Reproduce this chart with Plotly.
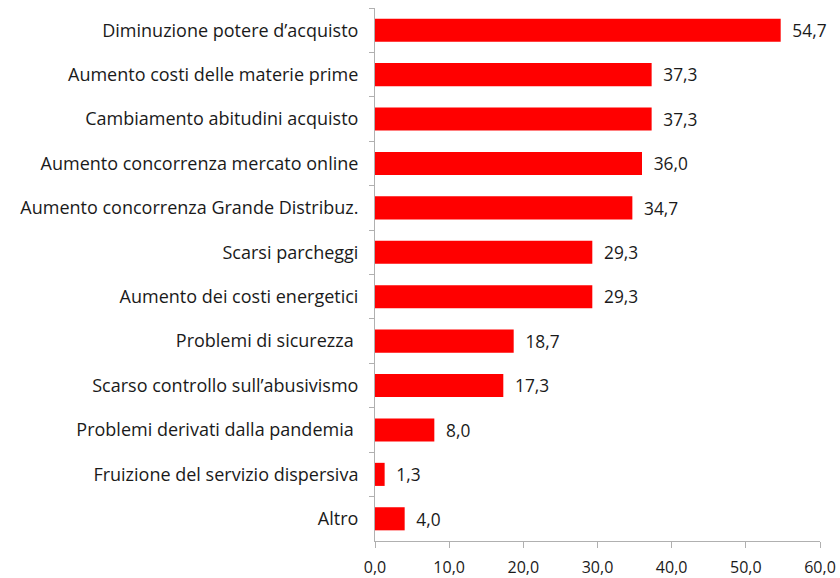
import plotly.graph_objects as go

categories = [
    "Diminuzione potere d’acquisto",
    "Aumento costi delle materie prime",
    "Cambiamento abitudini acquisto",
    "Aumento concorrenza mercato online",
    "Aumento concorrenza Grande Distribuz.",
    "Scarsi parcheggi",
    "Aumento dei costi energetici",
    "Problemi di sicurezza ",
    "Scarso controllo sull’abusivismo",
    "Problemi derivati dalla pandemia ",
    "Fruizione del servizio dispersiva",
    "Altro",
]
values = [54.7, 37.3, 37.3, 36.0, 34.7, 29.3, 29.3, 18.7, 17.3, 8.0, 1.3, 4.0]
x_ticks = [0, 10, 20, 30, 40, 50, 60]

FONT = "Open Sans, sans-serif"
TXT = "#1a1a1a"

fig = go.Figure(go.Bar(
    y=categories,
    x=values,
    orientation="h",
    marker=dict(color="#ff0000", line=dict(width=0)),
    texttemplate="\u2002%{x:.1f}",
    textposition="outside",
    textfont=dict(family=FONT, size=18, color=TXT),
    cliponaxis=False,
    width=0.52,
    hoverinfo="skip",
))

fig.update_layout(
    width=840, height=578,
    margin=dict(l=375, r=20, t=8, b=37),
    paper_bgcolor="white", plot_bgcolor="white",
    separators=",.",
    showlegend=False,
    font=dict(family=FONT, size=18, color=TXT),
)
fig.update_yaxes(
    autorange="reversed",
    automargin=False,
    showline=True, linecolor="#b0b0b0", linewidth=1,
    ticks="outside", ticklen=5, tickcolor="#b0b0b0",
    tickson="boundaries",
    ticklabelstandoff=12,
    showgrid=False,
    tickfont=dict(family=FONT, size=18, color=TXT),
)
fig.update_xaxes(
    range=[0, 60],
    automargin=False,
    tickvals=x_ticks,
    tickformat=".1f",
    showline=True, linecolor="#b0b0b0", linewidth=1,
    ticks="outside", ticklen=6, tickcolor="#b0b0b0",
    ticklabelstandoff=6,
    showgrid=False, zeroline=False,
    tickfont=dict(family=FONT, size=16, color=TXT),
)

fig.write_html(
    "out.html",
    config={"displayModeBar": False, "staticPlot": True},
    post_script="document.body.style.margin='0';document.documentElement.style.overflow='hidden';",
)
